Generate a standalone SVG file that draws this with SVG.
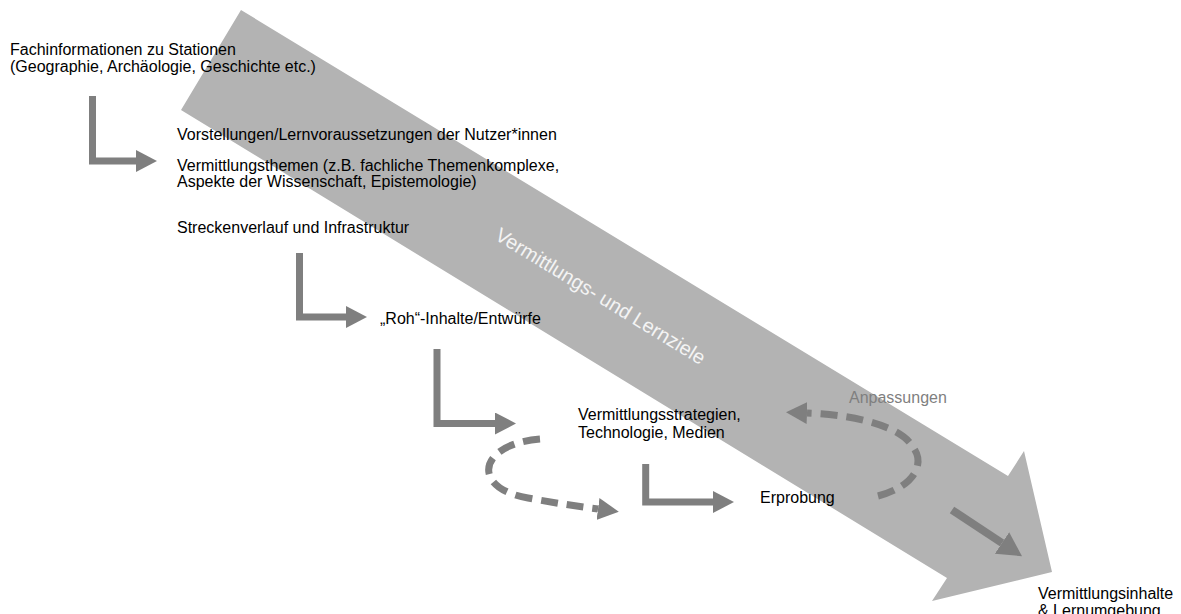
<svg xmlns="http://www.w3.org/2000/svg" width="1181" height="614" viewBox="0 0 1181 614">
<style>
  text { font-family: "Liberation Sans", Arial, sans-serif; font-size: 16px; fill: #000; }
  .big { fill: #b3b3b3; }
  .lbar { fill: none; stroke: #7f7f7f; stroke-width: 7; stroke-linejoin: miter; }
  .dash { fill: none; stroke: #7f7f7f; stroke-width: 7; stroke-dasharray: 17 9; }
  .goal { fill: #f4f4f4; font-size: 20px; }
  .adj { fill: #7f7f7f; }
</style>
<defs>
  <marker id="head" viewBox="0 0 21 22" refX="0" refY="11" markerWidth="21" markerHeight="22" markerUnits="userSpaceOnUse" orient="auto">
    <path d="M0,0 L21,11 L0,22 Z" fill="#7f7f7f"/>
  </marker>
  <marker id="headBig" viewBox="0 0 24 26" refX="0" refY="13" markerWidth="24" markerHeight="26" markerUnits="userSpaceOnUse" orient="auto">
    <path d="M0,0 L24,13 L0,26 Z" fill="#7f7f7f"/>
  </marker>
</defs>

<g id="goal-arrow">
  <polygon class="big" points="241,10 1008,476 1024,451 1052,572 932,601 947,578 181,110"/>
  <text class="goal" transform="translate(597,302) rotate(31.5)" text-anchor="middle">Vermittlungs- und Lernziele</text>
</g>

<g id="connectors">
  <polyline class="lbar" points="92.5,96 92.5,161 136,161" marker-end="url(#head)"/>
  <polyline class="lbar" points="299.5,253 299.5,317 346,317" marker-end="url(#head)"/>
  <polyline class="lbar" points="437,349 437,423.5 495,423.5" marker-end="url(#head)"/>
  <polyline class="lbar" points="645.7,464 645.7,502 713,502" marker-end="url(#head)"/>
  <path class="dash" d="M 540 439 C 478 444, 470 488, 528 498 C 555 503, 575 506, 598 509" marker-end="url(#head)"/>
  <path class="dash" d="M 878 496 C 916 486, 926 462, 912 446 C 902 428, 860 415, 807 413" marker-end="url(#head)"/>
  <line x1="952" y1="510" x2="1002" y2="543" stroke="#7f7f7f" stroke-width="8" marker-end="url(#headBig)"/>
</g>

<g id="node-fachinfo">
  <text x="10" y="55">Fachinformationen zu Stationen</text>
  <text x="10" y="72">(Geographie, Archäologie, Geschichte etc.)</text>
</g>
<g id="node-vorstellungen">
  <text x="177" y="140">Vorstellungen/Lernvoraussetzungen der Nutzer*innen</text>
</g>
<g id="node-themen">
  <text x="177" y="171">Vermittlungsthemen  (z.B.  fachliche Themenkomplexe,</text>
  <text x="177" y="187">Aspekte der Wissenschaft, Epistemologie)</text>
</g>
<g id="node-strecke">
  <text x="177" y="233">Streckenverlauf und Infrastruktur</text>
</g>
<g id="node-roh">
  <text x="380" y="324">„Roh“-Inhalte/Entwürfe</text>
</g>
<g id="node-strategien">
  <text x="578" y="420">Vermittlungsstrategien,</text>
  <text x="578" y="438">Technologie, Medien</text>
</g>
<g id="node-erprobung">
  <text x="760" y="503">Erprobung</text>
</g>
<g id="node-anpassungen">
  <text class="adj" x="849" y="403">Anpassungen</text>
</g>
<g id="node-ergebnis">
  <text x="1038" y="599">Vermittlungsinhalte</text>
  <text x="1038" y="616">&amp; Lernumgebung</text>
</g>
</svg>
